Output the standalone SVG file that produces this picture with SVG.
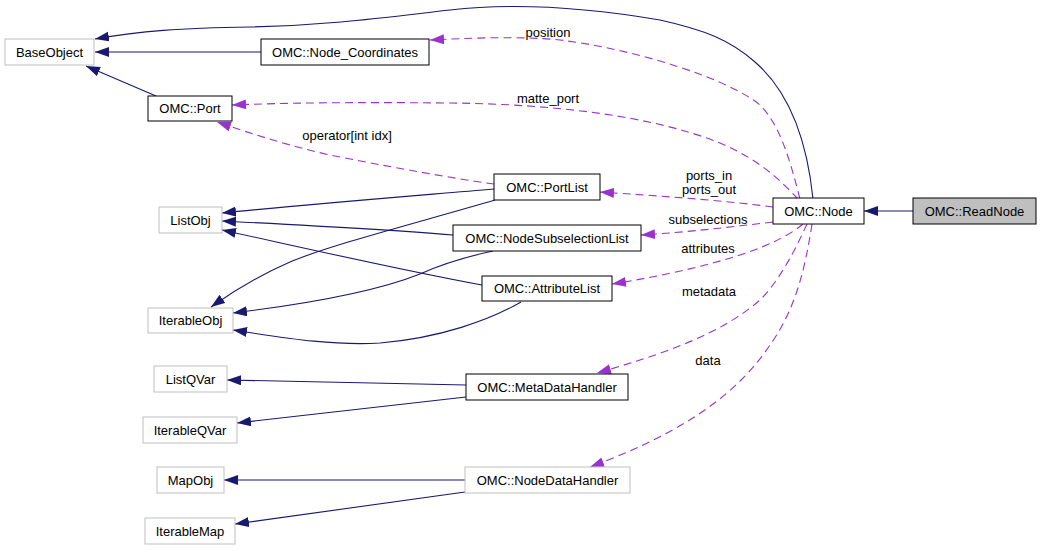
<svg xmlns="http://www.w3.org/2000/svg" width="1041" height="550" viewBox="0 0 1041 550">
<style>
.n rect{fill:#fff;stroke:#000;stroke-width:1}
.n.g rect{stroke:#bfbfbf}
.n.sel rect{fill:#bfbfbf}
text{font-family:"Liberation Sans",Arial,sans-serif;font-size:13px;fill:#000;text-anchor:middle}
.inh{fill:none;stroke:#191970;stroke-width:1.1;marker-end:url(#an)}
.use{fill:none;stroke:#9a32cd;stroke-width:1.1;stroke-dasharray:8,5;marker-end:url(#ap)}
</style>
<defs>
<marker id="an" markerUnits="userSpaceOnUse" markerWidth="15" markerHeight="11" refX="14" refY="5" orient="auto" viewBox="0 0 15 11"><path d="M0,0 L14,5 L0,10 z" fill="#191970"/></marker>
<marker id="ap" markerUnits="userSpaceOnUse" markerWidth="15" markerHeight="11" refX="14" refY="5" orient="auto" viewBox="0 0 15 11"><path d="M0,0 L14,5 L0,10 z" fill="#9a32cd"/></marker>
</defs>
<rect width="1041" height="550" fill="#fff"/>
<g id="connectors">
<path class="inh" d="M913,211 L864,211"/>
<path class="inh" d="M813,199 C808,150 793,95 755,62 C730,40 705,30 660,20 C590,8 520,2 450,10 C380,18 330,25 250,27 C180,28 140,31 95,39"/>
<path class="inh" d="M261,52 L95,52"/>
<path class="inh" d="M156,96 L86,66"/>
<path class="inh" d="M494,189 C400,197 300,205 222,213"/>
<path class="inh" d="M453,235 C380,229 300,225 222,221"/>
<path class="inh" d="M482,285 C400,270 300,247 222,230"/>
<path class="inh" d="M495,200 C420,222 330,245 290,262 C260,275 235,290 211,307"/>
<path class="inh" d="M493,251 C460,258 440,265 420,274 C370,294 290,306 233,313"/>
<path class="inh" d="M521,302 C490,320 440,338 380,343 C330,346 280,337 233,330"/>
<path class="inh" d="M466,385 L227,380"/>
<path class="inh" d="M466,397 L237,423"/>
<path class="inh" d="M465,480 L224,480"/>
<path class="inh" d="M465,492 L235,524"/>
<path class="use" d="M800,199 C790,160 780,125 760,105 C730,80 640,50 560,40 C520,36 470,38 430,40"/>
<path class="use" d="M798,199 C780,180 760,160 720,143 C650,115 550,104 450,103 C350,102 280,103 232,105"/>
<path class="use" d="M494,184 C450,178 380,165 330,155 C290,146 255,135 217,122"/>
<path class="use" d="M773,207 C720,200 660,196 600,192"/>
<path class="use" d="M773,222 C730,227 690,232 641,235"/>
<path class="use" d="M803,224 C790,235 770,245 740,255 C700,268 650,278 612,284"/>
<path class="use" d="M807,224 C795,250 780,280 760,300 C720,335 660,355 597,373"/>
<path class="use" d="M812,224 C805,270 795,310 770,345 C740,390 690,430 590,467"/>
<text x="548" y="37">position</text>
<text x="548" y="103">matte_port</text>
<text x="347" y="140">operator[int idx]</text>
<text x="709" y="180">ports_in</text>
<text x="709" y="194">ports_out</text>
<text x="708" y="224">subselections</text>
<text x="708" y="253">attributes</text>
<text x="709" y="296">metadata</text>
<text x="708" y="365">data</text>
</g>
<g id="ReadNode" class="n sel"><rect x="913" y="198" width="123" height="26"/><text x="974.5" y="215.5">OMC::ReadNode</text></g>
<g id="Node" class="n"><rect x="773" y="198" width="91" height="26"/><text x="818.5" y="215.5">OMC::Node</text></g>
<g id="BaseObject" class="n g"><rect x="5" y="39" width="89" height="26"/><text x="49.5" y="56.5">BaseObject</text></g>
<g id="Node_Coordinates" class="n"><rect x="261" y="39" width="168" height="26"/><text x="345" y="56.5">OMC::Node_Coordinates</text></g>
<g id="Port" class="n"><rect x="148" y="96" width="84" height="25"/><text x="190" y="113">OMC::Port</text></g>
<g id="PortList" class="n"><rect x="494" y="174" width="106" height="26"/><text x="547" y="191.5">OMC::PortList</text></g>
<g id="NodeSubselectionList" class="n"><rect x="453" y="225" width="188" height="26"/><text x="547" y="242.5">OMC::NodeSubselectionList</text></g>
<g id="AttributeList" class="n"><rect x="482" y="276" width="130" height="25"/><text x="547" y="293">OMC::AttributeList</text></g>
<g id="MetaDataHandler" class="n"><rect x="466" y="374" width="162" height="26"/><text x="547" y="391.5">OMC::MetaDataHandler</text></g>
<g id="NodeDataHandler" class="n g"><rect x="465" y="467" width="165" height="26"/><text x="547.5" y="484.5">OMC::NodeDataHandler</text></g>
<g id="ListObj" class="n g"><rect x="159" y="207" width="63" height="26"/><text x="190.5" y="224.5">ListObj</text></g>
<g id="IterableObj" class="n g"><rect x="148" y="308" width="85" height="25"/><text x="190.5" y="325">IterableObj</text></g>
<g id="ListQVar" class="n g"><rect x="154" y="366" width="73" height="26"/><text x="190.5" y="383.5">ListQVar</text></g>
<g id="IterableQVar" class="n g"><rect x="143" y="417" width="94" height="26"/><text x="190" y="434.5">IterableQVar</text></g>
<g id="MapObj" class="n g"><rect x="157" y="467" width="67" height="26"/><text x="190.5" y="484.5">MapObj</text></g>
<g id="IterableMap" class="n g"><rect x="145" y="518" width="90" height="26"/><text x="190" y="535.5">IterableMap</text></g>
</svg>
